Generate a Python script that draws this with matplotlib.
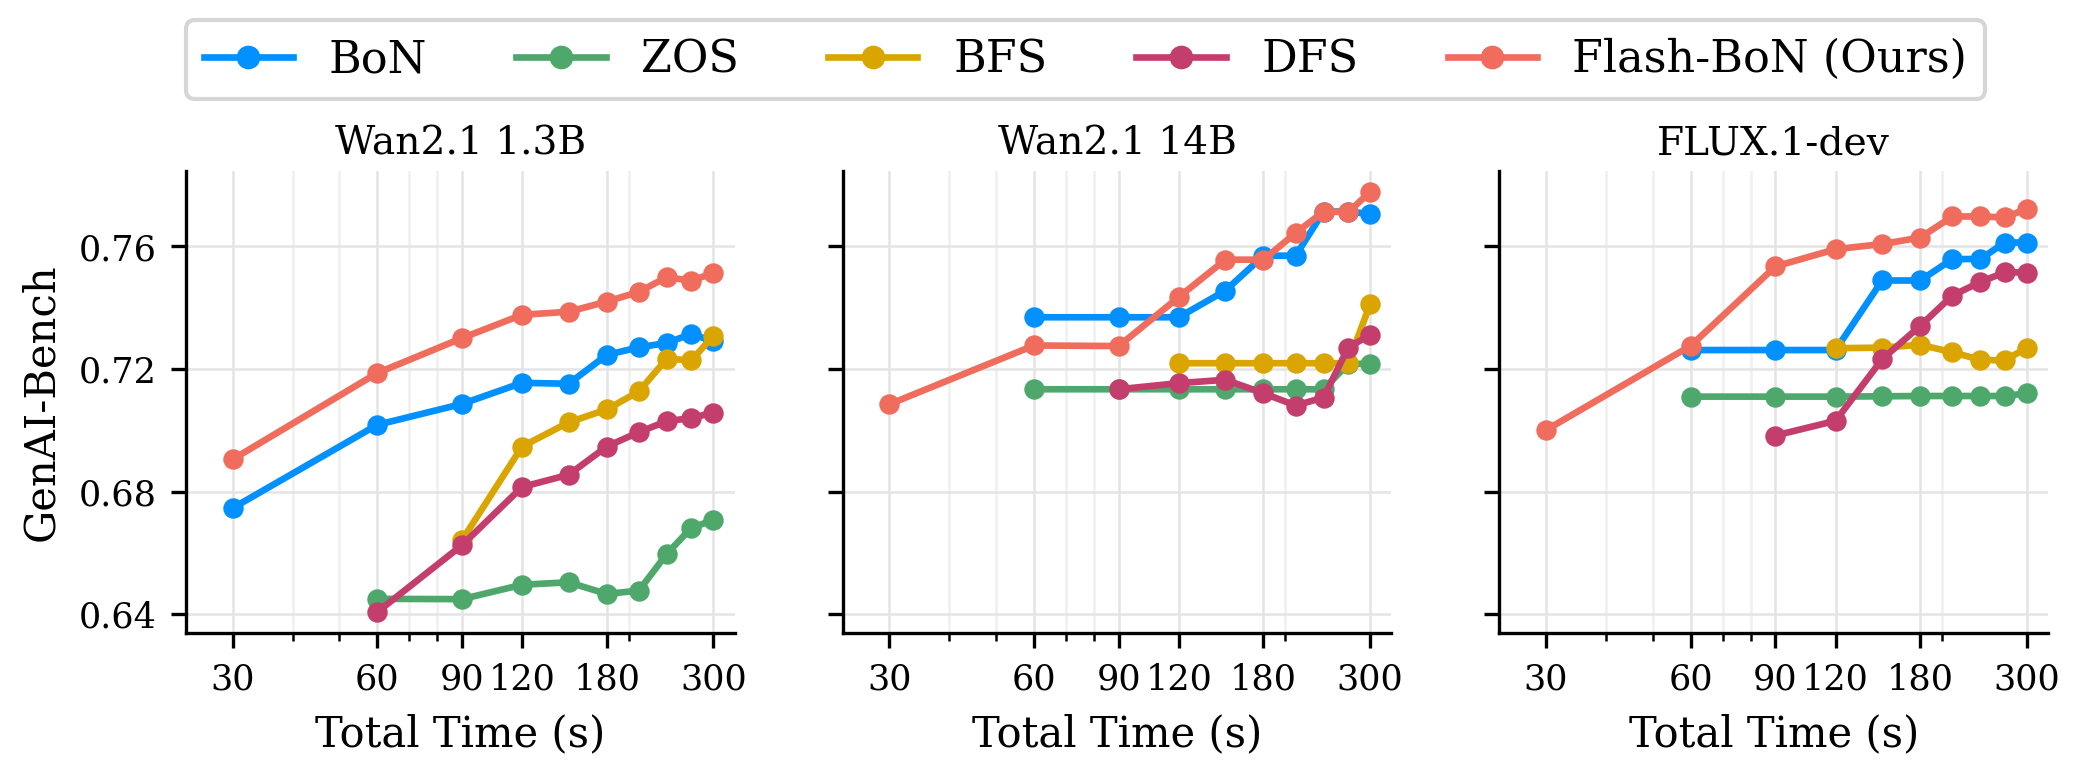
import numpy as np
import matplotlib
matplotlib.use("Agg")
import matplotlib.pyplot as plt
from matplotlib.ticker import FixedLocator, FixedFormatter, NullFormatter

plt.rcParams['font.family'] = 'serif'
plt.rcParams['font.serif'] = ['DejaVu Serif']

nan = np.nan

times = [30, 60, 90, 120, 150, 180, 210, 240, 270, 300]
models = ["Wan2.1 1.3B", "Wan2.1 14B", "FLUX.1-dev"]
methods = ["BoN", "ZOS", "BFS", "DFS", "Flash-BoN (Ours)"]
colors = ["#0090FF", "#4EA86C", "#DAA500", "#C33E6C", "#F06C5C"]

xticks = [30, 60, 90, 120, 180, 300]
yticks = [0.64, 0.68, 0.72, 0.76]

# Wan2.1 1.3B
bon_a   = [0.6746, 0.7018, 0.7086, 0.7155, 0.7152, 0.7246, 0.7271, 0.7285, 0.7315, 0.7290]
zos_a   = [nan, 0.6450, 0.6449, 0.6496, 0.6504, 0.6466, 0.6477, 0.6597, 0.6682, 0.6707]
bfs_a   = [nan, nan, 0.6641, 0.6947, 0.7026, 0.7068, 0.7127, 0.7234, 0.7228, 0.7309]
dfs_a   = [nan, 0.6407, 0.6625, 0.6815, 0.6855, 0.6947, 0.6994, 0.7030, 0.7040, 0.7058]
flash_a = [0.6905, 0.7187, 0.7301, 0.7377, 0.7387, 0.7420, 0.7452, 0.7500, 0.7488, 0.7514]

# Wan2.1 14B
bon_b   = [nan, 0.7369, 0.7369, 0.7369, 0.7456, 0.7570, 0.7570, 0.7714, 0.7714, 0.7706]
zos_b   = [nan, 0.7134, 0.7134, 0.7134, 0.7134, 0.7134, 0.7134, 0.7134, 0.7217, 0.7217]
bfs_b   = [nan, nan, nan, 0.7219, 0.7219, 0.7219, 0.7219, 0.7219, 0.7219, 0.7412]
dfs_b   = [nan, nan, 0.7134, 0.7154, 0.7165, 0.7121, 0.7081, 0.7107, 0.7270, 0.7312]
flash_b = [0.7085, 0.7277, 0.7275, 0.7435, 0.7557, 0.7557, 0.7644, 0.7714, 0.7712, 0.7778]

# FLUX.1-dev
bon_c   = [nan, 0.7262, 0.7262, 0.7262, 0.7489, 0.7489, 0.7559, 0.7559, 0.7613, 0.7613]
zos_c   = [nan, 0.7110, 0.7110, 0.7110, 0.7111, 0.7112, 0.7112, 0.7112, 0.7112, 0.7121]
bfs_c   = [nan, nan, nan, 0.7268, 0.7270, 0.7279, 0.7255, 0.7230, 0.7228, 0.7270]
dfs_c   = [nan, nan, 0.6983, 0.7031, 0.7232, 0.7341, 0.7440, 0.7484, 0.7516, 0.7515]
flash_c = [0.7001, 0.7276, 0.7535, 0.7591, 0.7608, 0.7629, 0.7698, 0.7698, 0.7695, 0.7723]

panels = [
    [bon_a, zos_a, bfs_a, dfs_a, flash_a],
    [bon_b, zos_b, bfs_b, dfs_b, flash_b],
    [bon_c, zos_c, bfs_c, dfs_c, flash_c],
]

fig, axes = plt.subplots(1, 3, figsize=(6.94, 2.5834), dpi=300, sharey=True)
fig.subplots_adjust(left=0.0893, right=0.9837, bottom=0.1832, top=0.7794, wspace=0.197)

handles = []
for k, ax in enumerate(axes):
    for series, name, c in zip(panels[k], methods, colors):
        ln, = ax.plot(times, series, "-o", color=c, linewidth=1.6, markersize=3.9,
                      label=name, zorder=3)
        if k == 0:
            handles.append(ln)
    ax.set_xscale("log")
    ax.set_xlim(24, 332)
    ax.xaxis.set_major_locator(FixedLocator(xticks))
    ax.xaxis.set_major_formatter(FixedFormatter([str(t) for t in xticks]))
    ax.xaxis.set_minor_formatter(NullFormatter())
    ax.set_yticks(yticks)
    ax.set_yticklabels(["%.2f" % v for v in yticks])
    ax.grid(True, which="major", color="#e4e4e4", linewidth=0.6, zorder=0)
    ax.grid(True, which="minor", axis="x", color="#f0f0f0", linewidth=0.6, zorder=0)
    ax.tick_params(axis="both", which="major", labelsize=8.4, color="black")
    ax.spines["top"].set_visible(False)
    ax.spines["right"].set_visible(False)
    for s in ["left", "bottom"]:
        ax.spines[s].set_color("black")
    ax.set_title(models[k], fontsize=9.4, pad=4)
    ax.set_xlabel("Total Time (s)", fontsize=10)

axes[0].set_ylabel("GenAI-Bench", fontsize=10)

fig.legend(handles, methods, loc="upper center", bbox_to_anchor=(0.5214, 0.974),
           borderaxespad=0, ncol=5, fontsize=10.7, markerscale=1.2, frameon=True)

fig.savefig("out.png", dpi=300)
